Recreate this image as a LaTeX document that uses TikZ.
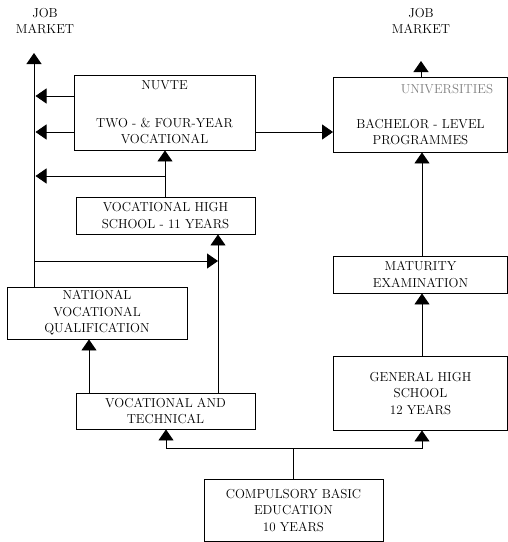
\documentclass[tikz,border=0pt]{standalone}
\usetikzlibrary{arrows.meta}
\begin{document}
\begin{tikzpicture}[x=1pt,y=-1pt,
  box/.style={draw,line width=0.9pt,inner sep=0pt,align=center,
    font=\fontsize{13}{16.5}\selectfont},
  lbl/.style={align=center,inner sep=0pt,font=\fontsize{13}{16.5}\selectfont},
  arr/.style={line width=0.9pt,-{Triangle[length=11pt,width=15pt]}}]
\useasboundingbox (0,0) rectangle (508,542);
% left column
\node[box,minimum width=181,minimum height=75] (nuvte) at (164.5,112.5)
  {NUVTE\\[21pt]TWO - \& FOUR-YEAR\\VOCATIONAL};
\node[box,minimum width=179,minimum height=37] (vhs) at (165.5,215.5)
  {VOCATIONAL HIGH\\SCHOOL - 11 YEARS};
\node[box,minimum width=180,minimum height=52] (nvq) at (97,313)
  {NATIONAL\\VOCATIONAL\\QUALIFICATION};
\node[box,minimum width=179,minimum height=36] (vat) at (165.5,411)
  {VOCATIONAL AND\\TECHNICAL};
\node[box,minimum width=179,minimum height=62] (basic) at (293.5,510)
  {COMPULSORY BASIC\\EDUCATION\\10 YEARS};
% right column
\node[box,minimum width=174,minimum height=75] (uni) at (420.5,114.5) {};
\node[lbl,text=gray] (unitop) at (447,89) {UNIVERSITIES};
\node[lbl] (bachelor) at (420.5,132) {BACHELOR - LEVEL\\PROGRAMMES};
\node[box,minimum width=174,minimum height=37] (mat) at (420.5,274.5)
  {MATURITY\\EXAMINATION};
\node[box,minimum width=174,minimum height=74] (ghs) at (420.5,393)
  {GENERAL HIGH\\SCHOOL\\12 YEARS};
\node[lbl] (jobl) at (45,21) {JOB\\MARKET};
\node[lbl] (jobr) at (421,21) {JOB\\MARKET};
% connectors
\coordinate (spine) at (34,53);
\coordinate (fork) at (293.5,448);
\coordinate (vbranch) at (165,176);
\draw[arr] (nvq.north -| spine) -- (spine);
\draw[arr] (nuvte.west |- 0,96) -- (35.5,96);
\draw[arr] (nuvte.west |- 0,132) -- (35.5,132);
\draw[arr] (nuvte.east |- 0,132) -- (uni.west |- 0,132);
\draw[arr] (vhs.north -| vbranch) -- (nuvte.south -| vbranch);
\draw[arr] (vbranch) -- (35.5,176);
\draw[arr] (spine |- 0,261) -- (218,261);
\draw[arr] (vat.north -| 218,0) -- (vhs.south -| 218,0);
\draw[arr] (vat.north -| 89,0) -- (nvq.south -| 89,0);
\draw[arr] (basic.north) -- (fork) -| (vat.south -| 166,0);
\draw[arr] (fork) -| (ghs.south -| 422,0);
\draw[arr] (ghs.north -| 422,0) -- (mat.south -| 422,0);
\draw[arr] (mat.north -| 422,0) -- (uni.south -| 422,0);
\draw[arr] (uni.north -| 421,0) -- (421,61);
\end{tikzpicture}
\end{document}
